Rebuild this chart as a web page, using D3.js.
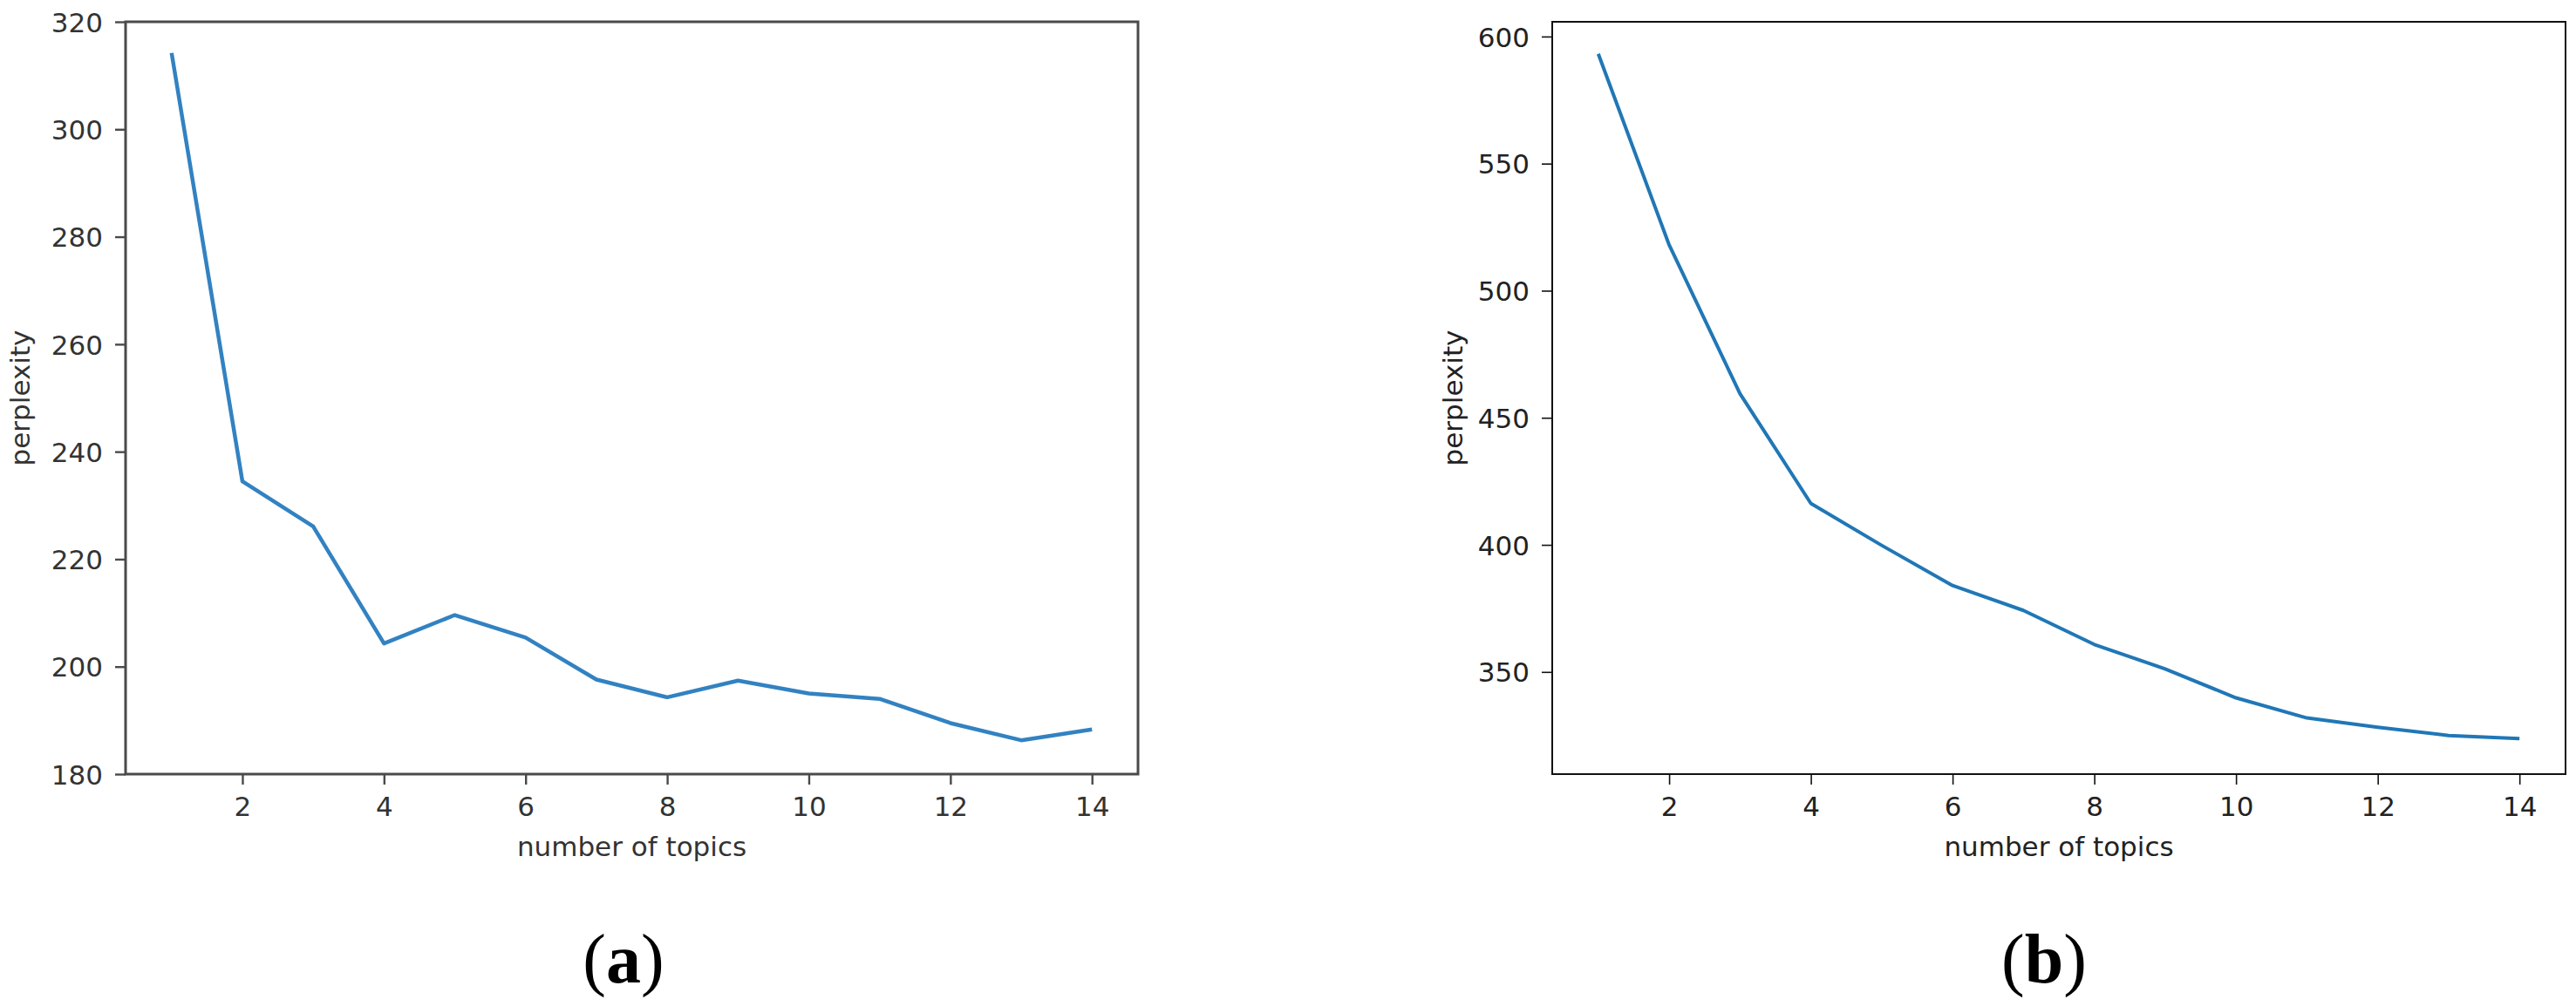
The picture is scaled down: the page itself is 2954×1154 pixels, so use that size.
<!DOCTYPE html>
<html>
<head>
<meta charset="utf-8">
<script src="https://cdn.jsdelivr.net/npm/d3@7"></script>
<style>
  html, body { margin: 0; padding: 0; background: #fff; }
  svg { display: block; }
</style>
</head>
<body>
<svg id="chart" width="2954" height="1154"></svg>
<script>
// ---- data ----
const topics = [1, 2, 3, 4, 5, 6, 7, 8, 9, 10, 11, 12, 13, 14];
const perplexityA = [314.2, 234.5, 226.1, 204.3, 209.6, 205.4, 197.6, 194.3, 197.4, 195.0, 194.0, 189.5, 186.3, 188.3];
const perplexityB = [593.2, 518.0, 459.5, 416.3, 399.8, 384.0, 374.2, 360.8, 351.2, 339.8, 331.9, 328.2, 325.0, 323.8];
const xTickValues = [2, 4, 6, 8, 10, 12, 14];
const yTicksA = [180, 200, 220, 240, 260, 280, 300, 320];
const yTicksB = [350, 400, 450, 500, 550, 600];
const xDomain = [0.35, 14.65];
const yDomainA = [180, 320];
const yDomainB = [309.8, 605.8];
const xLabel = "number of topics";
const yLabel = "perplexity";
const captions = ["a", "b"];

// ---- layout ----
const svg = d3.select("#chart");
const plotTop = 25, plotBottom = 888;
const panels = [
  { left: 144, right: 1305, values: perplexityA, yDomain: yDomainA, yTicks: yTicksA,
    axisColor: "#4a4a4a", axisWidth: 3, textColor: "#333", lineWidth: 4.5, lineColor: "#3282c2",
    capX: 715, ylabX: 34 },
  { left: 1780, right: 2942, values: perplexityB, yDomain: yDomainB, yTicks: yTicksB,
    axisColor: "#111", axisWidth: 2, textColor: "#222", lineWidth: 4, lineColor: "#2077b6",
    capX: 2344, ylabX: 1677 }
];

panels.forEach((p, i) => {
  const x = d3.scaleLinear().domain(xDomain).range([p.left, p.right]);
  const y = d3.scaleLinear().domain(p.yDomain).range([plotBottom, plotTop]);
  const g = svg.append("g");

  // line
  const line = d3.line().x((d, k) => x(topics[k])).y(d => y(d));
  g.append("path")
    .datum(p.values)
    .attr("d", line)
    .attr("fill", "none")
    .attr("stroke", p.lineColor)
    .attr("stroke-width", p.lineWidth)
    .attr("stroke-linejoin", "round")
    .attr("stroke-linecap", "butt");

  // frame
  g.append("rect")
    .attr("x", p.left).attr("y", plotTop)
    .attr("width", p.right - p.left).attr("height", plotBottom - plotTop)
    .attr("fill", "none")
    .attr("stroke", p.axisColor)
    .attr("stroke-width", p.axisWidth);

  // x axis
  const xAxis = d3.axisBottom(x).tickValues(xTickValues).tickSize(12).tickPadding(12).tickFormat(d3.format("d"));
  const gx = g.append("g").attr("transform", `translate(0,${plotBottom})`).call(xAxis);
  gx.select(".domain").remove();
  gx.selectAll(".tick line").attr("stroke", p.axisColor).attr("stroke-width", p.axisWidth * 0.8);
  gx.selectAll(".tick text")
    .attr("fill", p.textColor)
    .attr("font-family", "DejaVu Sans")
    .attr("font-size", 31)
    .attr("dy", "0.76em");

  // y axis
  const yAxis = d3.axisLeft(y).tickValues(p.yTicks).tickSize(12).tickPadding(14).tickFormat(d3.format("d"));
  const gy = g.append("g").attr("transform", `translate(${p.left},0)`).call(yAxis);
  gy.select(".domain").remove();
  gy.selectAll(".tick line").attr("stroke", p.axisColor).attr("stroke-width", p.axisWidth * 0.8);
  gy.selectAll(".tick text")
    .attr("fill", p.textColor)
    .attr("font-family", "DejaVu Sans")
    .attr("font-size", 31)
    .attr("dy", "0.36em");

  // axis labels
  g.append("text")
    .attr("x", (p.left + p.right) / 2).attr("y", 982)
    .attr("text-anchor", "middle")
    .attr("fill", p.textColor)
    .attr("font-family", "DejaVu Sans")
    .attr("font-size", 31)
    .text(xLabel);

  g.append("text")
    .attr("transform", `translate(${p.ylabX},${(plotTop + plotBottom) / 2}) rotate(-90)`)
    .attr("text-anchor", "middle")
    .attr("fill", p.textColor)
    .attr("font-family", "DejaVu Sans")
    .attr("font-size", 31)
    .text(yLabel);

  // caption
  const cap = svg.append("text")
    .attr("x", p.capX).attr("y", 1127)
    .attr("text-anchor", "middle")
    .attr("fill", "#000")
    .attr("font-family", "Liberation Serif")
    .attr("font-size", 80);
  cap.append("tspan").text("(");
  cap.append("tspan").attr("font-weight", "bold").text(captions[i]);
  cap.append("tspan").text(")");
});
</script>
</body>
</html>
